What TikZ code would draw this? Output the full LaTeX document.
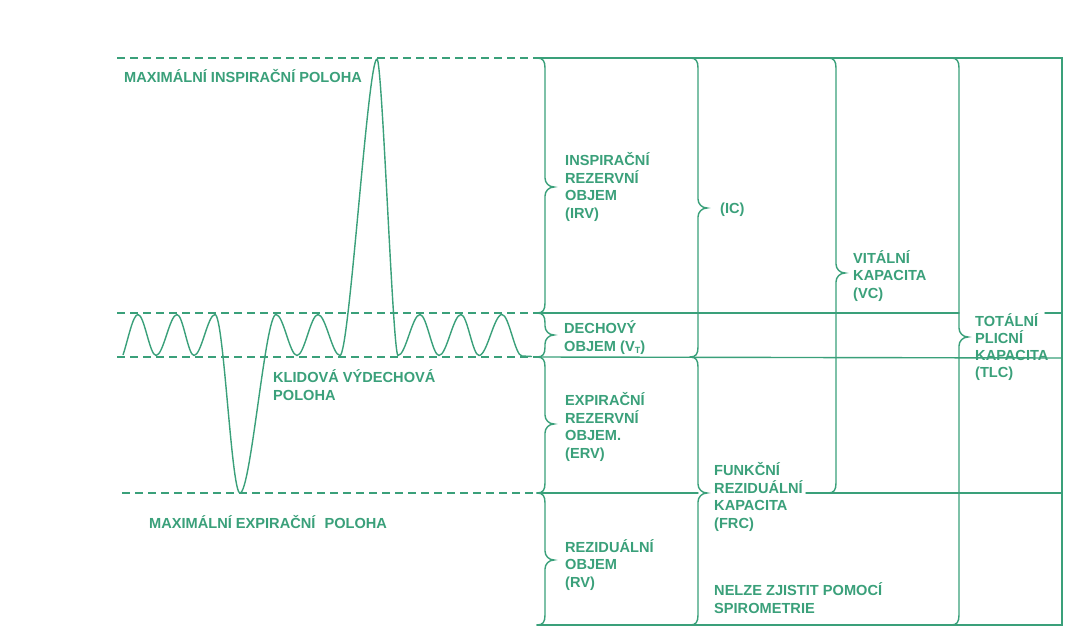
\documentclass[tikz,border=0pt]{standalone}
\usepackage{fontspec}
\setmainfont{Liberation Sans}
\definecolor{gr}{RGB}{58,160,122}
\tikzset{
  ln/.style={draw=gr, line width=1.4pt, line cap=round},
  dsh/.style={draw=gr, line width=1.3pt, dash pattern=on 8pt off 5pt},
  wave/.style={draw=gr, line width=1.4pt, line join=round},
  lbl/.style={text=gr, font=\bfseries\fontsize{14.6}{17.5}\selectfont, inner sep=0pt, align=left, anchor=base west}
}
\newcommand\vbr[4]{% x, ytop, ybot, ymid
  \draw[ln] ({#1-8},#2) .. controls ({#1-2},#2) and (#1,{#2+3}) .. (#1,{#2+10})
    -- (#1,{#4-9}) .. controls (#1,{#4-4}) and ({#1+4},#4) .. ({#1+9},#4)
    .. controls ({#1+4},#4) and (#1,{#4+4}) .. (#1,{#4+9})
    -- (#1,{#3-10}) .. controls (#1,{#3-3}) and ({#1-2},#3) .. ({#1-8},#3);}
\begin{document}
\begin{tikzpicture}[x=1pt,y=-1pt]
\useasboundingbox (0,0) rectangle (1084,637);
\fill[white] (0,0) rectangle (1084,637);
% dashed reference levels
\draw[dsh] (117,58) -- (537,58);
\draw[dsh] (117,313) -- (537,313);
\draw[dsh] (117,357) -- (537,357);
\draw[dsh] (122,493) -- (537,493);
% solid grid
\draw[ln] (537,58) -- (1062,58) -- (1062,625) -- (537,625);
\draw[ln] (537,313) -- (959,313);
\draw[ln] (1045,313) -- (1062,313);
\draw[ln] (537,357) -- (1062,358);
\draw[ln] (537,493) -- (698,493);
\draw[ln] (806,493) -- (1062,493);
% braces
\vbr{545}{58}{313}{187}
\vbr{545}{313}{357}{335}
\vbr{545}{357}{493}{424}
\vbr{545}{493}{625}{560}
\vbr{698}{58}{357}{208}
\vbr{698}{357}{625}{493}
\vbr{836}{58}{493}{273}
\vbr{959}{58}{625}{337}
% spirogram
\draw[wave] (123,355) .. controls (128,340) and (132.8,314.5) .. (138,314.5)
  .. controls (144.3,314.5) and (149.7,355.5) .. (156,355.5)
  .. controls (163.4,355.5) and (169.7,314.5) .. (177,314.5)
  .. controls (183,314.5) and (188,355.5) .. (194,355.5)
  .. controls (201.4,355.5) and (207.7,314.5) .. (215,314.5)
  .. controls (223.8,314.5) and (231.3,493) .. (240,493)
  .. controls (250.8,493) and (265.2,314.5) .. (276,314.5)
  .. controls (283.4,314.5) and (289.7,355.5) .. (297,355.5)
  .. controls (304.4,355.5) and (310.7,314.5) .. (318,314.5)
  .. controls (325.7,314.5) and (332.3,355.5) .. (340,355.5)
  .. controls (349.3,355.5) and (367.8,59) .. (377,59)
  .. controls (382.3,59) and (392.8,355.5) .. (398,355.5)
  .. controls (405.7,355.5) and (412.3,314.5) .. (420,314.5)
  .. controls (426.7,314.5) and (432.4,355.5) .. (439,355.5)
  .. controls (446.7,355.5) and (453.3,314.5) .. (461,314.5)
  .. controls (467.3,314.5) and (472.7,355.5) .. (479,355.5)
  .. controls (487.1,355.5) and (494,314.5) .. (502,314.5)
  .. controls (509,314.5) and (515,356) .. (522,356) -- (532,356.5);
% labels (anchor = baseline of the last line)
\node[lbl] (mip) at (124,82) {MAXIMÁLNÍ INSPIRAČNÍ POLOHA};
\node[lbl] (kvp) at (273,400) {KLIDOVÁ VÝDECHOVÁ\\POLOHA};
\node[lbl] (mep) at (149,528) {MAXIMÁLNÍ EXPIRAČNÍ\hspace{5pt} POLOHA};
\node[lbl] (irv) at (565,218) {INSPIRAČNÍ\\REZERVNÍ\\OBJEM\\(IRV)};
\node[lbl] (ic) at (720,213) {(IC)};
\node[lbl] (vt) at (564,351) {DECHOVÝ\\OBJEM (V\raisebox{-2.5pt}{\fontsize{9}{9}\selectfont T})};
\node[lbl] (vc) at (853,298) {VITÁLNÍ\\KAPACITA\\(VC)};
\node[lbl, font=\bfseries\fontsize{14.6}{16.7}\selectfont] (tlc) at (975,377) {TOTÁLNÍ\\PLICNÍ\\KAPACITA\\(TLC)};
\node[lbl] (erv) at (565,458) {EXPIRAČNÍ\\REZERVNÍ\\OBJEM.\\(ERV)};
\node[lbl] (frc) at (714,528) {FUNKČNÍ\\REZIDUÁLNÍ\\KAPACITA\\(FRC)};
\node[lbl] (rv) at (565,587) {REZIDUÁLNÍ\\OBJEM\\(RV)};
\node[lbl] (nz) at (714,613) {NELZE ZJISTIT POMOCÍ\\SPIROMETRIE};
\end{tikzpicture}
\end{document}
